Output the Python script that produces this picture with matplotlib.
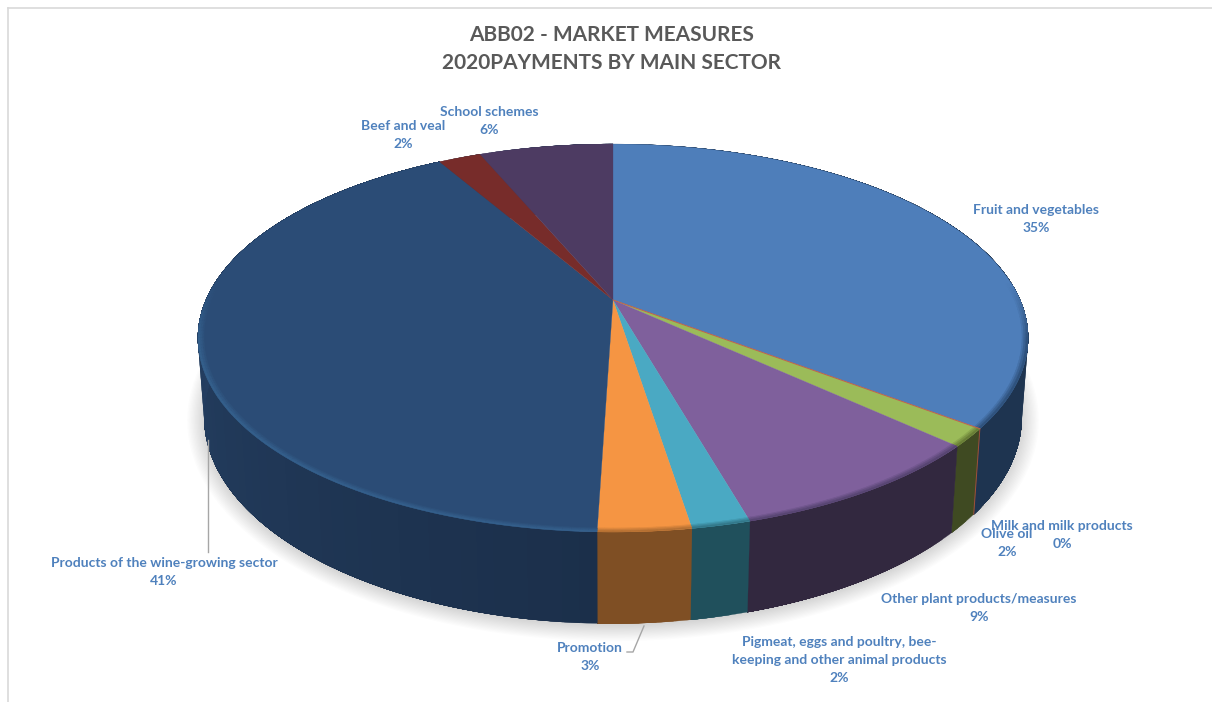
import numpy as np
import matplotlib
matplotlib.use("Agg")
import matplotlib.pyplot as plt
from matplotlib.colors import to_rgb

plt.rcParams["font.family"] = ["Lato", "DejaVu Sans"]

# Sector shares of the payments, in percent, clockwise from twelve o'clock
sectors = ["Fruit and vegetables", "Milk and milk products", "Olive oil",
           "Other plant products/measures",
           "Pigmeat, eggs and poultry, bee-\nkeeping and other animal products",
           "Promotion", "Products of the wine-growing sector",
           "Beef and veal", "School schemes"]
shares = [35.4, 0.0, 1.5, 8.7, 1.9, 3.0, 41.2, 2.0, 6.3]

top_colors = ["#4e7eba", "#c0604d", "#9bbb59", "#7f609c", "#4aa9c3",
              "#f59543", "#2b4c76", "#772c2a", "#4d3b62"]
wall_colors = ["#1e3450", "#a0503c", "#3f4a22", "#32283f", "#20505c",
               "#7f4f24", "#1b2f4a", "#4a1c1a", "#32283f"]
rim_colors = ["#2a4a72", "#c0604d", "#5f7230", "#50406a", "#2f6f80",
              "#a96a30", "#35628f", "#772c2a", "#4d3b62"]

# Centres of the data labels, in pixels
label_x = [1036, 1062, 1007, 979, 839, 590, 164, 403, 489]
label_y = [219, 535, 543, 608, 660, 657, 572, 135, 121]

# Perspective of the disc: centre, scale and foreshortening
cx, cy = 613, 300
scale_x, scale_y = 407, 186.5
tilt = -0.196
depth_w, depth_h = 0.015, 78.5


def project(theta, r=1.0, lower=False):
    # theta in degrees clockwise from the top of the disc
    rad = np.radians(theta)
    x = r * np.sin(rad)
    y = -r * np.cos(rad)
    w = 1 + tilt * y + (depth_w if lower else 0)
    h = depth_h if lower else 0
    return cx + scale_x * x / w, cy + (scale_y * y + h) / w


def blend(a, b, t):
    a, b = np.array(to_rgb(a)), np.array(to_rgb(b))
    return tuple(a + (b - a) * t)


def arc(a0, a1, step=0.5):
    th = np.arange(a0, a1 + step, step)
    th[-1] = a1
    return th


fig = plt.figure(figsize=(12.12, 7.02), dpi=100, facecolor="white")
ax = fig.add_axes([0, 0, 1, 1])
ax.set_xlim(0, 1212)
ax.set_ylim(702, 0)
ax.axis("off")

# Chart frame, only the top and left edges show
ax.plot([7.5, 1212], [7.5, 7.5], color="#d9d9d9", lw=1.2, zorder=1)
ax.plot([7.5, 7.5], [7.5, 702], color="#d9d9d9", lw=1.2, zorder=1)

edges = np.cumsum([0] + shares) * 3.6

# Soft shadow under the pie
ring = np.linspace(0, 360, 361)
sx, sy = project(ring, lower=True)
for grow in np.linspace(1.07, 1.0, 14):
    px = cx + (sx - cx) * (1 + (grow - 1) * 0.6)
    py = 400 + (sy - 400) * grow + 2
    ax.fill(px, py, color="#000000", alpha=0.012, lw=0, zorder=2)

# Outer wall: each band paints the rest of its slice, so no seams show
for i, share in enumerate(shares):
    a0, a1 = edges[i], edges[i + 1]
    if share == 0:
        x0, y0 = project(a0)
        x1, y1 = project(a0, lower=True)
        ax.plot([x0, x1], [y0, y1], color=wall_colors[i], lw=0.7, zorder=3.5)
        continue
    for s0 in arc(a0, a1, 2.0)[:-1]:
        th = arc(s0, a1)
        tx, ty = project(th)
        bx, by = project(th, lower=True)
        # walls get lighter towards the left side
        lift = np.clip((s0 - 180) / 90, 0, 1) * 0.3
        col = blend(wall_colors[i], "#3a6499", lift)
        ax.fill(np.r_[tx, bx[::-1]], np.r_[ty, by[::-1]], color=col, lw=0.2,
                zorder=3)

# Top face of each slice
for i, share in enumerate(shares):
    if share == 0:
        continue
    x, y = project(arc(edges[i], edges[i + 1]))
    ax.fill(np.r_[cx, x], np.r_[cy, y], color=top_colors[i], lw=0.2, zorder=4)

# Bevel along the front rim, fading out towards the back
bands = [(0.986, 0.990, 0.25), (0.990, 0.995, 0.55), (0.995, 1.0, 0.85)]
for i, share in enumerate(shares):
    if share == 0:
        continue
    for s0, s1 in zip(arc(edges[i], edges[i + 1], 1.0)[:-1],
                      arc(edges[i], edges[i + 1], 1.0)[1:]):
        front = np.clip((-np.cos(np.radians(s0)) + 0.1) / 0.3, 0, 1)
        if front <= 0:
            continue
        for r0, r1, strength in bands:
            xa, ya = project(np.array([s0, s1]), r0)
            xb, yb = project(np.array([s1, s0]), r1)
            col = blend(top_colors[i], rim_colors[i], strength * front)
            ax.fill(np.r_[xa, xb], np.r_[ya, yb], color=col, lw=0.3, zorder=5)

# A zero share only leaves a hairline on the top face
for i, share in enumerate(shares):
    if share == 0:
        x, y = project(edges[i])
        ax.plot([cx, x], [cy, y], color=top_colors[i], lw=0.7, zorder=6)

# Leader lines
ax.plot([208, 208], [440, 552], color="#a6a6a6", lw=1, zorder=7)
ax.plot([644, 633, 627], [626, 652, 652], color="#a6a6a6", lw=1, zorder=7)

# Data labels
for name, share, lx, ly in zip(sectors, shares, label_x, label_y):
    ax.text(lx, ly, f"{name}\n{share:.0f}%", ha="center", va="center",
            multialignment="center", color="#4f81bd", fontsize=10,
            fontweight="bold", linespacing=1.55, zorder=8)

ax.text(612, 49, "ABB02 - MARKET MEASURES\n2020PAYMENTS BY MAIN SECTOR",
        ha="center", va="center", multialignment="center", color="#595959",
        fontsize=15, fontweight="bold", linespacing=1.52, zorder=8)

fig.savefig("out.png", dpi=100)
